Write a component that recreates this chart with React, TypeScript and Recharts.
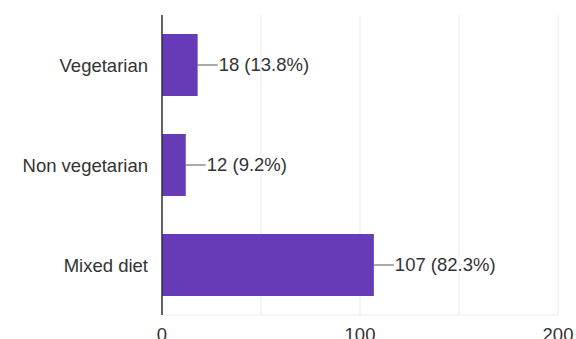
import { BarChart, Bar, XAxis, YAxis, CartesianGrid, LabelList } from 'recharts';

const categories = ['Vegetarian', 'Non vegetarian', 'Mixed diet'];
const counts = [18, 12, 107];
const percents = [13.8, 9.2, 82.3];
const xTicks = [0, 50, 100, 150, 200];
const xTickLabels = ['0', '', '100', '', '200'];

const data = categories.map((name, i) => ({ name, count: counts[i], pct: percents[i] }));

const FONT = '"Liberation Sans", Arial, sans-serif';

// leader line from the bar end, then "n (p%)"
function ValueLabel(props: any) {
  const { x, y, width, height, index } = props;
  const x0 = x + width;
  const cy = y + height / 2;
  return (
    <g>
      <line x1={x0} y1={cy} x2={x0 + 20} y2={cy} stroke="#555" strokeWidth={1} />
      <text
        x={x0 + 21}
        y={cy}
        dy="0.35em"
        fill="#333"
        fontSize={18.5}
        fontFamily={FONT}
      >
        {`${counts[index]} (${percents[index]}%)`}
      </text>
    </g>
  );
}

export default function App() {
  return (
    <div style={{ position: 'absolute', left: 0, top: 0, width: 576, height: 339, overflow: 'hidden', background: '#fff' }}>
      <BarChart
        width={576}
        height={370}
        data={data}
        layout="vertical"
        barCategoryGap="19%"
        margin={{ top: 15, right: 18, bottom: 25, left: 12 }}
      >
        <CartesianGrid horizontal={false} stroke="#ebebeb" verticalValues={xTicks} />
        <XAxis
          type="number"
          domain={[0, 200]}
          ticks={xTicks}
          tickFormatter={(v: number) => xTickLabels[xTicks.indexOf(v)]}
          axisLine={{ stroke: '#ebebeb' }}
          tickLine={false}
          tickMargin={7}
          height={30}
          tick={{ fill: '#333', fontSize: 18.5, fontFamily: FONT }}
        />
        <XAxis
          xAxisId="top"
          orientation="top"
          type="number"
          domain={[0, 200]}
          height={0}
          tick={false}
          tickLine={false}
          axisLine={{ stroke: '#ebebeb' }}
        />
        <YAxis
          type="category"
          dataKey="name"
          width={150}
          axisLine={{ stroke: '#333', strokeWidth: 1.5 }}
          tickLine={false}
          tickMargin={8}
          tick={{ fill: '#333', fontSize: 18.5, fontFamily: FONT }}
        />
        <Bar dataKey="count" fill="#673ab7" isAnimationActive={false}>
          <LabelList dataKey="count" content={<ValueLabel />} />
        </Bar>
      </BarChart>
    </div>
  );
}
